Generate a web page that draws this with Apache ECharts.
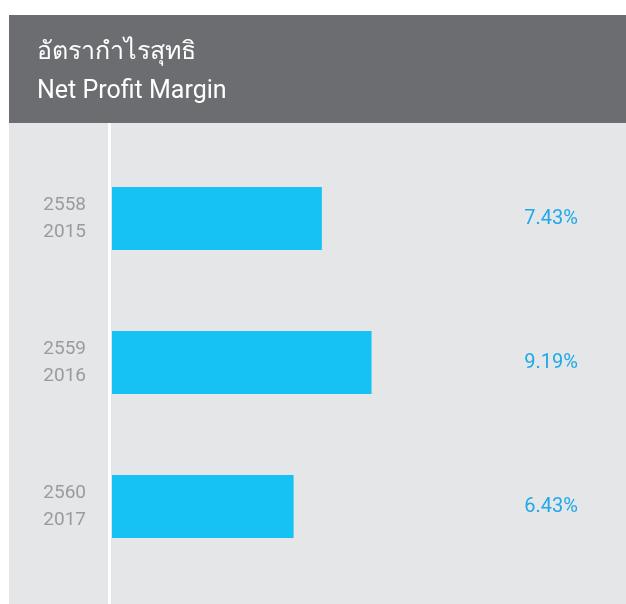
<!DOCTYPE html>
<html>
<head>
<meta charset="utf-8">
<script src="https://cdn.jsdelivr.net/npm/echarts@6/dist/echarts.min.js"></script>
<style>
  html, body { margin: 0; padding: 0; background: #fff; }
  #chart { width: 626px; height: 604px; }
</style>
</head>
<body>
<div id="chart"></div>
<script>
  // data
  const thaiYears = ['2558', '2559', '2560'];
  const years = ['2015', '2016', '2017'];
  const margins = [7.43, 9.19, 6.43];

  const categories = years.map((y, i) => thaiYears[i] + '\n' + y);
  const valueLabels = margins.map(v => v.toFixed(2) + '%');

  const font = 'Roboto, "Noto Sans", "DejaVu Sans", sans-serif';

  let chart = echarts.init(document.getElementById('chart'));
  let option = {
    backgroundColor: '#ffffff',
    animation: false,
    title: {
      text: 'อัตรากำไรสุทธิ\nNet Profit Margin',
      left: 37,
      top: 33,
      padding: 0,
      textStyle: {
        color: '#ffffff',
        fontSize: 25,
        fontWeight: 'normal',
        lineHeight: 39,
        fontFamily: font
      }
    },
    graphic: [
      { type: 'rect', z: -10, shape: { x: 9, y: 15, width: 617, height: 108 }, style: { fill: '#6c6d71' } },
      { type: 'rect', z: -10, shape: { x: 9, y: 123, width: 617, height: 481 }, style: { fill: '#e5e6e8' } },
      { type: 'rect', z: -5, shape: { x: 108, y: 123, width: 3, height: 481 }, style: { fill: '#ffffff' } }
    ],
    grid: {
      left: 112,
      right: 48,
      top: 146.5,
      bottom: 25.5
    },
    xAxis: {
      type: 'value',
      min: 0,
      max: 16.5,
      show: false
    },
    yAxis: [
      {
        type: 'category',
        data: categories,
        inverse: true,
        axisLine: { show: false },
        axisTick: { show: false },
        splitLine: { show: false },
        axisLabel: {
          margin: 26,
          color: '#9b9b9d',
          fontSize: 19,
          lineHeight: 27,
          align: 'right',
          fontFamily: font
        }
      },
      {
        type: 'category',
        data: valueLabels,
        inverse: true,
        position: 'right',
        axisLine: { show: false },
        axisTick: { show: false },
        splitLine: { show: false },
        axisLabel: {
          inside: true,
          margin: 0,
          color: '#1ea9e8',
          fontSize: 20,
          align: 'right',
          fontFamily: font
        }
      }
    ],
    series: [
      {
        type: 'bar',
        data: margins,
        barWidth: 63,
        itemStyle: { color: '#15c2f3' }
      }
    ]
  };
  chart.setOption(option);
</script>
</body>
</html>
